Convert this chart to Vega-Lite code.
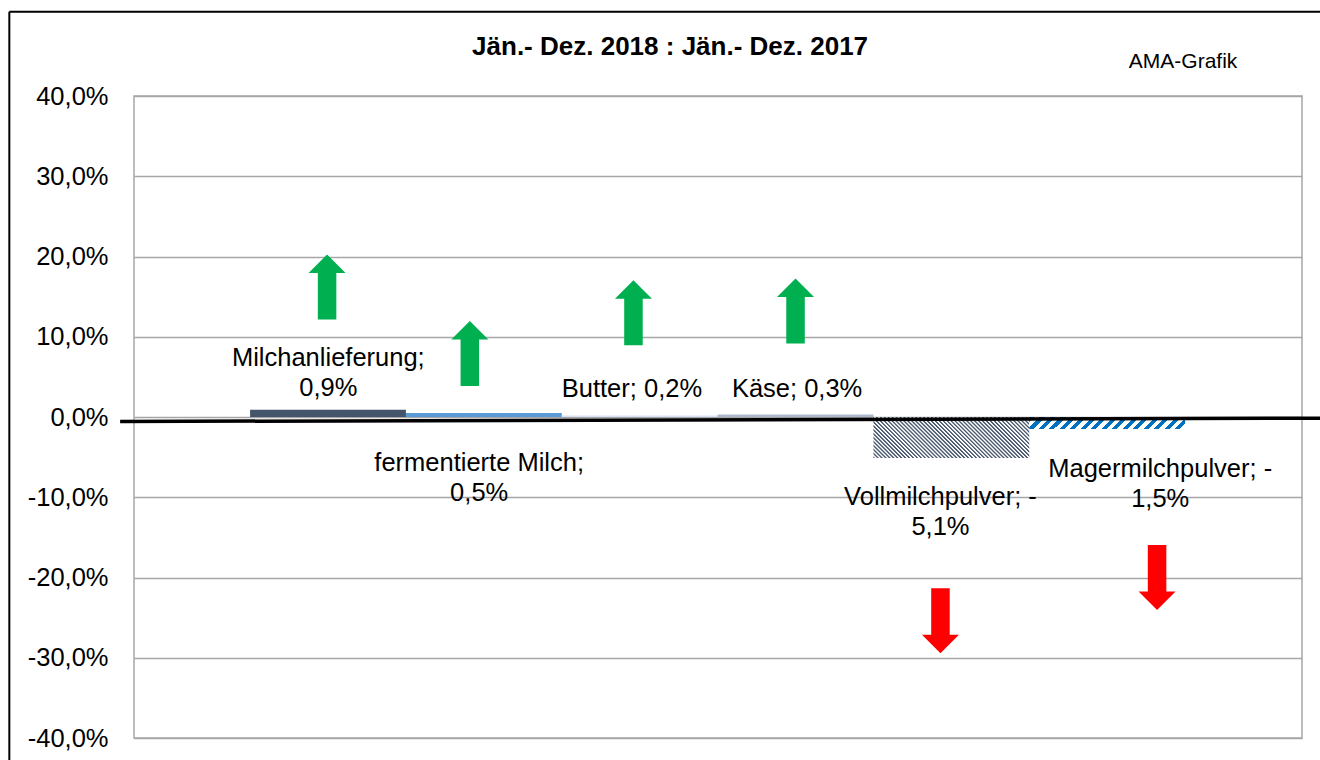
{
  "$schema": "https://vega.github.io/schema/vega-lite/v6.json",
  "width": 1168,
  "height": 642,
  "autosize": {"type": "none"},
  "padding": {"left": 134, "top": 96, "right": 18, "bottom": 22},
  "background": "white",
  "config": {"font": "Liberation Sans", "view": {"stroke": "#a6a6a6", "strokeWidth": 1.5}},
  "resolve": {"axis": {"x": "independent", "y": "independent"}},
  "datasets": {
    "bars": [
      {"product": "Milchanlieferung", "change": 0.9, "from": 0, "to": 1},
      {"product": "fermentierte Milch", "change": 0.5, "from": 1, "to": 2},
      {"product": "Butter", "change": 0.2, "from": 2, "to": 3},
      {"product": "Käse", "change": 0.3, "from": 3, "to": 4},
      {"product": "Vollmilchpulver", "change": -5.1, "from": 4, "to": 5},
      {"product": "Magermilchpulver", "change": -1.5, "from": 5, "to": 6}
    ],
    "arrows": [
      {"product": "Milchanlieferung", "trend": "up", "pos": 0.494, "level": 16.2},
      {"product": "fermentierte Milch", "trend": "up", "pos": 1.41, "level": 7.9},
      {"product": "Butter", "trend": "up", "pos": 2.46, "level": 13.0},
      {"product": "Käse", "trend": "up", "pos": 3.5, "level": 13.2},
      {"product": "Vollmilchpulver", "trend": "down", "pos": 4.43, "level": -25.4},
      {"product": "Magermilchpulver", "trend": "down", "pos": 5.82, "level": -20.0}
    ],
    "labels": [
      {"label": ["Milchanlieferung;", "0,9%"], "pos": 0.502, "level": 7.35},
      {"label": ["fermentierte Milch;", "0,5%"], "pos": 1.47, "level": -5.73},
      {"label": "Butter; 0,2%", "pos": 2.45, "level": 3.49},
      {"label": "Käse; 0,3%", "pos": 3.51, "level": 3.49},
      {"label": ["Vollmilchpulver; -", "5,1%"], "pos": 4.43, "level": -9.97},
      {"label": ["Magermilchpulver; -", "1,5%"], "pos": 5.84, "level": -6.48}
    ],
    "axisline": [{"from": -0.834, "to": 6.866, "start": -0.56, "end": -0.15}],
    "frame": [
      {"from": -1.545, "to": -1.545, "start": 50.5, "end": -60},
      {"from": -1.545, "to": 9, "start": 50.5, "end": 50.5}
    ],
    "heading": [{"text": "Jän.- Dez. 2018 : Jän.- Dez. 2017", "pos": 2.695, "level": 46.1}],
    "note": [{"text": "AMA-Grafik", "pos": 5.987, "level": 44.2}]
  },
  "layer": [
    {
      "data": {"name": "bars"},
      "transform": [{"filter": "datum.product !== 'Vollmilchpulver' && datum.product !== 'Magermilchpulver'"}],
      "mark": {"type": "rect"},
      "encoding": {
        "x": {"field": "from", "type": "quantitative", "scale": {"domain": [-0.745, 6.75], "nice": false, "zero": false}, "axis": null},
        "x2": {"field": "to"},
        "y": {"field": "change", "type": "quantitative", "scale": {"domain": [-40, 40], "nice": false, "zero": false},
          "axis": {"orient": "left", "values": [-40, -30, -20, -10, 0, 10, 20, 30, 40], "title": null, "domain": false, "ticks": false, "tickSize": 0, "labelPadding": 26, "labelFontSize": 25.5, "labelColor": "#000000", "labelFont": "Liberation Sans", "grid": true, "gridColor": "#a6a6a6", "gridWidth": 1.5,
            "labelExpr": "replace(replace(format(datum.value, '.1f'), '.', ','), '\u2212', '-') + '%'"}},
        "y2": {"datum": 0},
        "color": {"field": "product", "type": "nominal", "legend": null,
          "scale": {"domain": ["Milchanlieferung", "fermentierte Milch", "Butter", "Käse"], "range": ["#44546a", "#5b9bd5", "#dae3f3", "#adb9ca"]}}
      }
    },
    {
      "data": {"name": "bars"},
      "transform": [{"filter": "datum.product === 'Vollmilchpulver'"}],
      "mark": {"type": "rect", "fill": {"gradient": "linear", "x1": 0, "y1": 1, "x2": 1.1811, "y2": 0.69, "stops": [
        {"offset":0,"color":"#4d5b70"},{"offset":0.005,"color":"#4d5b70"},{"offset":0.011,"color":"#fff"},{"offset":0.016,"color":"#fff"},
        {"offset":0.02,"color":"#4d5b70"},{"offset":0.025,"color":"#4d5b70"},{"offset":0.031,"color":"#fff"},{"offset":0.036,"color":"#fff"},
        {"offset":0.04,"color":"#4d5b70"},{"offset":0.045,"color":"#4d5b70"},{"offset":0.051,"color":"#fff"},{"offset":0.056,"color":"#fff"},
        {"offset":0.06,"color":"#4d5b70"},{"offset":0.065,"color":"#4d5b70"},{"offset":0.071,"color":"#fff"},{"offset":0.076,"color":"#fff"},
        {"offset":0.08,"color":"#4d5b70"},{"offset":0.085,"color":"#4d5b70"},{"offset":0.091,"color":"#fff"},{"offset":0.096,"color":"#fff"},
        {"offset":0.1,"color":"#4d5b70"},{"offset":0.105,"color":"#4d5b70"},{"offset":0.111,"color":"#fff"},{"offset":0.116,"color":"#fff"},
        {"offset":0.12,"color":"#4d5b70"},{"offset":0.125,"color":"#4d5b70"},{"offset":0.131,"color":"#fff"},{"offset":0.136,"color":"#fff"},
        {"offset":0.14,"color":"#4d5b70"},{"offset":0.145,"color":"#4d5b70"},{"offset":0.151,"color":"#fff"},{"offset":0.156,"color":"#fff"},
        {"offset":0.16,"color":"#4d5b70"},{"offset":0.165,"color":"#4d5b70"},{"offset":0.171,"color":"#fff"},{"offset":0.176,"color":"#fff"},
        {"offset":0.18,"color":"#4d5b70"},{"offset":0.185,"color":"#4d5b70"},{"offset":0.191,"color":"#fff"},{"offset":0.196,"color":"#fff"},
        {"offset":0.2,"color":"#4d5b70"},{"offset":0.205,"color":"#4d5b70"},{"offset":0.211,"color":"#fff"},{"offset":0.216,"color":"#fff"},
        {"offset":0.22,"color":"#4d5b70"},{"offset":0.225,"color":"#4d5b70"},{"offset":0.231,"color":"#fff"},{"offset":0.236,"color":"#fff"},
        {"offset":0.24,"color":"#4d5b70"},{"offset":0.245,"color":"#4d5b70"},{"offset":0.251,"color":"#fff"},{"offset":0.256,"color":"#fff"},
        {"offset":0.26,"color":"#4d5b70"},{"offset":0.265,"color":"#4d5b70"},{"offset":0.271,"color":"#fff"},{"offset":0.276,"color":"#fff"},
        {"offset":0.28,"color":"#4d5b70"},{"offset":0.285,"color":"#4d5b70"},{"offset":0.291,"color":"#fff"},{"offset":0.296,"color":"#fff"},
        {"offset":0.3,"color":"#4d5b70"},{"offset":0.305,"color":"#4d5b70"},{"offset":0.311,"color":"#fff"},{"offset":0.316,"color":"#fff"},
        {"offset":0.32,"color":"#4d5b70"},{"offset":0.325,"color":"#4d5b70"},{"offset":0.331,"color":"#fff"},{"offset":0.336,"color":"#fff"},
        {"offset":0.34,"color":"#4d5b70"},{"offset":0.345,"color":"#4d5b70"},{"offset":0.351,"color":"#fff"},{"offset":0.356,"color":"#fff"},
        {"offset":0.36,"color":"#4d5b70"},{"offset":0.365,"color":"#4d5b70"},{"offset":0.371,"color":"#fff"},{"offset":0.376,"color":"#fff"},
        {"offset":0.38,"color":"#4d5b70"},{"offset":0.385,"color":"#4d5b70"},{"offset":0.391,"color":"#fff"},{"offset":0.396,"color":"#fff"},
        {"offset":0.4,"color":"#4d5b70"},{"offset":0.405,"color":"#4d5b70"},{"offset":0.411,"color":"#fff"},{"offset":0.416,"color":"#fff"},
        {"offset":0.42,"color":"#4d5b70"},{"offset":0.425,"color":"#4d5b70"},{"offset":0.431,"color":"#fff"},{"offset":0.436,"color":"#fff"},
        {"offset":0.44,"color":"#4d5b70"},{"offset":0.445,"color":"#4d5b70"},{"offset":0.451,"color":"#fff"},{"offset":0.456,"color":"#fff"},
        {"offset":0.46,"color":"#4d5b70"},{"offset":0.465,"color":"#4d5b70"},{"offset":0.471,"color":"#fff"},{"offset":0.476,"color":"#fff"},
        {"offset":0.48,"color":"#4d5b70"},{"offset":0.485,"color":"#4d5b70"},{"offset":0.491,"color":"#fff"},{"offset":0.496,"color":"#fff"},
        {"offset":0.5,"color":"#4d5b70"},{"offset":0.505,"color":"#4d5b70"},{"offset":0.511,"color":"#fff"},{"offset":0.516,"color":"#fff"},
        {"offset":0.52,"color":"#4d5b70"},{"offset":0.525,"color":"#4d5b70"},{"offset":0.531,"color":"#fff"},{"offset":0.536,"color":"#fff"},
        {"offset":0.54,"color":"#4d5b70"},{"offset":0.545,"color":"#4d5b70"},{"offset":0.551,"color":"#fff"},{"offset":0.556,"color":"#fff"},
        {"offset":0.56,"color":"#4d5b70"},{"offset":0.565,"color":"#4d5b70"},{"offset":0.571,"color":"#fff"},{"offset":0.576,"color":"#fff"},
        {"offset":0.58,"color":"#4d5b70"},{"offset":0.585,"color":"#4d5b70"},{"offset":0.591,"color":"#fff"},{"offset":0.596,"color":"#fff"},
        {"offset":0.6,"color":"#4d5b70"},{"offset":0.605,"color":"#4d5b70"},{"offset":0.611,"color":"#fff"},{"offset":0.616,"color":"#fff"},
        {"offset":0.62,"color":"#4d5b70"},{"offset":0.625,"color":"#4d5b70"},{"offset":0.631,"color":"#fff"},{"offset":0.636,"color":"#fff"},
        {"offset":0.64,"color":"#4d5b70"},{"offset":0.645,"color":"#4d5b70"},{"offset":0.651,"color":"#fff"},{"offset":0.656,"color":"#fff"},
        {"offset":0.66,"color":"#4d5b70"},{"offset":0.665,"color":"#4d5b70"},{"offset":0.671,"color":"#fff"},{"offset":0.676,"color":"#fff"},
        {"offset":0.68,"color":"#4d5b70"},{"offset":0.685,"color":"#4d5b70"},{"offset":0.691,"color":"#fff"},{"offset":0.696,"color":"#fff"},
        {"offset":0.7,"color":"#4d5b70"},{"offset":0.705,"color":"#4d5b70"},{"offset":0.711,"color":"#fff"},{"offset":0.716,"color":"#fff"},
        {"offset":0.72,"color":"#4d5b70"},{"offset":0.725,"color":"#4d5b70"},{"offset":0.731,"color":"#fff"},{"offset":0.736,"color":"#fff"},
        {"offset":0.74,"color":"#4d5b70"},{"offset":0.745,"color":"#4d5b70"},{"offset":0.751,"color":"#fff"},{"offset":0.756,"color":"#fff"},
        {"offset":0.76,"color":"#4d5b70"},{"offset":0.765,"color":"#4d5b70"},{"offset":0.771,"color":"#fff"},{"offset":0.776,"color":"#fff"},
        {"offset":0.78,"color":"#4d5b70"},{"offset":0.785,"color":"#4d5b70"},{"offset":0.791,"color":"#fff"},{"offset":0.796,"color":"#fff"},
        {"offset":0.8,"color":"#4d5b70"},{"offset":0.805,"color":"#4d5b70"},{"offset":0.811,"color":"#fff"},{"offset":0.816,"color":"#fff"},
        {"offset":0.82,"color":"#4d5b70"},{"offset":0.825,"color":"#4d5b70"},{"offset":0.831,"color":"#fff"},{"offset":0.836,"color":"#fff"},
        {"offset":0.84,"color":"#4d5b70"},{"offset":0.845,"color":"#4d5b70"},{"offset":0.851,"color":"#fff"},{"offset":0.856,"color":"#fff"},
        {"offset":0.86,"color":"#4d5b70"},{"offset":0.865,"color":"#4d5b70"},{"offset":0.871,"color":"#fff"},{"offset":0.876,"color":"#fff"},
        {"offset":0.88,"color":"#4d5b70"},{"offset":0.885,"color":"#4d5b70"},{"offset":0.891,"color":"#fff"},{"offset":0.896,"color":"#fff"},
        {"offset":0.9,"color":"#4d5b70"},{"offset":0.905,"color":"#4d5b70"},{"offset":0.911,"color":"#fff"},{"offset":0.916,"color":"#fff"},
        {"offset":0.92,"color":"#4d5b70"},{"offset":0.925,"color":"#4d5b70"},{"offset":0.931,"color":"#fff"},{"offset":0.936,"color":"#fff"},
        {"offset":0.94,"color":"#4d5b70"},{"offset":0.945,"color":"#4d5b70"},{"offset":0.951,"color":"#fff"},{"offset":0.956,"color":"#fff"},
        {"offset":0.96,"color":"#4d5b70"},{"offset":0.965,"color":"#4d5b70"},{"offset":0.971,"color":"#fff"},{"offset":0.976,"color":"#fff"},
        {"offset":0.98,"color":"#4d5b70"},{"offset":0.985,"color":"#4d5b70"},{"offset":0.991,"color":"#fff"},{"offset":0.996,"color":"#fff"}
      ]}},
      "encoding": {
        "x": {"field": "from", "type": "quantitative", "scale": {"domain": [-0.745, 6.75], "nice": false, "zero": false}, "axis": null},
        "x2": {"field": "to"},
        "y": {"field": "change", "type": "quantitative", "scale": {"domain": [-40, 40], "nice": false, "zero": false}, "axis": null},
        "y2": {"datum": 0}
      }
    },
    {
      "data": {"name": "bars"},
      "transform": [{"filter": "datum.product === 'Magermilchpulver'"}],
      "mark": {"type": "rect", "fill": {"gradient": "linear", "x1": 0, "y1": 0, "x2": 1.0709, "y2": 0.0828, "stops": [
        {"offset":0,"color":"#0070c0"},{"offset":0.03125,"color":"#0070c0"},{"offset":0.03125,"color":"#fff"},{"offset":0.0625,"color":"#fff"},
        {"offset":0.0625,"color":"#0070c0"},{"offset":0.09375,"color":"#0070c0"},{"offset":0.09375,"color":"#fff"},{"offset":0.125,"color":"#fff"},
        {"offset":0.125,"color":"#0070c0"},{"offset":0.15625,"color":"#0070c0"},{"offset":0.15625,"color":"#fff"},{"offset":0.1875,"color":"#fff"},
        {"offset":0.1875,"color":"#0070c0"},{"offset":0.21875,"color":"#0070c0"},{"offset":0.21875,"color":"#fff"},{"offset":0.25,"color":"#fff"},
        {"offset":0.25,"color":"#0070c0"},{"offset":0.28125,"color":"#0070c0"},{"offset":0.28125,"color":"#fff"},{"offset":0.3125,"color":"#fff"},
        {"offset":0.3125,"color":"#0070c0"},{"offset":0.34375,"color":"#0070c0"},{"offset":0.34375,"color":"#fff"},{"offset":0.375,"color":"#fff"},
        {"offset":0.375,"color":"#0070c0"},{"offset":0.40625,"color":"#0070c0"},{"offset":0.40625,"color":"#fff"},{"offset":0.4375,"color":"#fff"},
        {"offset":0.4375,"color":"#0070c0"},{"offset":0.46875,"color":"#0070c0"},{"offset":0.46875,"color":"#fff"},{"offset":0.5,"color":"#fff"},
        {"offset":0.5,"color":"#0070c0"},{"offset":0.53125,"color":"#0070c0"},{"offset":0.53125,"color":"#fff"},{"offset":0.5625,"color":"#fff"},
        {"offset":0.5625,"color":"#0070c0"},{"offset":0.59375,"color":"#0070c0"},{"offset":0.59375,"color":"#fff"},{"offset":0.625,"color":"#fff"},
        {"offset":0.625,"color":"#0070c0"},{"offset":0.65625,"color":"#0070c0"},{"offset":0.65625,"color":"#fff"},{"offset":0.6875,"color":"#fff"},
        {"offset":0.6875,"color":"#0070c0"},{"offset":0.71875,"color":"#0070c0"},{"offset":0.71875,"color":"#fff"},{"offset":0.75,"color":"#fff"},
        {"offset":0.75,"color":"#0070c0"},{"offset":0.78125,"color":"#0070c0"},{"offset":0.78125,"color":"#fff"},{"offset":0.8125,"color":"#fff"},
        {"offset":0.8125,"color":"#0070c0"},{"offset":0.84375,"color":"#0070c0"},{"offset":0.84375,"color":"#fff"},{"offset":0.875,"color":"#fff"},
        {"offset":0.875,"color":"#0070c0"},{"offset":0.90625,"color":"#0070c0"},{"offset":0.90625,"color":"#fff"},{"offset":0.9375,"color":"#fff"},
        {"offset":0.9375,"color":"#0070c0"},{"offset":0.96875,"color":"#0070c0"},{"offset":0.96875,"color":"#fff"},{"offset":1,"color":"#fff"}
      ]}},
      "encoding": {
        "x": {"field": "from", "type": "quantitative", "scale": {"domain": [-0.745, 6.75], "nice": false, "zero": false}, "axis": null},
        "x2": {"field": "to"},
        "y": {"field": "change", "type": "quantitative", "scale": {"domain": [-40, 40], "nice": false, "zero": false}, "axis": null},
        "y2": {"datum": 0}
      }
    },
    {
      "data": {"name": "axisline"},
      "mark": {"type": "rule", "color": "#000000", "strokeWidth": 3.5},
      "encoding": {
        "x": {"field": "from", "type": "quantitative", "scale": {"domain": [-0.745, 6.75], "nice": false, "zero": false}, "axis": null},
        "x2": {"field": "to"},
        "y": {"field": "start", "type": "quantitative", "scale": {"domain": [-40, 40], "nice": false, "zero": false}, "axis": null},
        "y2": {"field": "end"}
      }
    },
    {
      "data": {"name": "frame"},
      "mark": {"type": "rule", "color": "#000000", "strokeWidth": 2},
      "encoding": {
        "x": {"field": "from", "type": "quantitative", "scale": {"domain": [-0.745, 6.75], "nice": false, "zero": false}, "axis": null},
        "x2": {"field": "to"},
        "y": {"field": "start", "type": "quantitative", "scale": {"domain": [-40, 40], "nice": false, "zero": false}, "axis": null},
        "y2": {"field": "end"}
      }
    },
    {
      "data": {"name": "arrows"},
      "transform": [{"filter": "datum.trend === 'up'"}],
      "mark": {"type": "point", "shape": "M0,-1L0.569,-0.431L0.285,-0.431L0.285,1L-0.285,1L-0.285,-0.431L-0.569,-0.431Z", "filled": true, "size": 4225, "color": "#00b050", "opacity": 1, "strokeWidth": 0},
      "encoding": {
        "x": {"field": "pos", "type": "quantitative", "scale": {"domain": [-0.745, 6.75], "nice": false, "zero": false}, "axis": null},
        "y": {"field": "level", "type": "quantitative", "scale": {"domain": [-40, 40], "nice": false, "zero": false}, "axis": null}
      }
    },
    {
      "data": {"name": "arrows"},
      "transform": [{"filter": "datum.trend === 'down'"}],
      "mark": {"type": "point", "shape": "M0,1L0.569,0.431L0.285,0.431L0.285,-1L-0.285,-1L-0.285,0.431L-0.569,0.431Z", "filled": true, "size": 4225, "color": "#ff0000", "opacity": 1, "strokeWidth": 0},
      "encoding": {
        "x": {"field": "pos", "type": "quantitative", "scale": {"domain": [-0.745, 6.75], "nice": false, "zero": false}, "axis": null},
        "y": {"field": "level", "type": "quantitative", "scale": {"domain": [-40, 40], "nice": false, "zero": false}, "axis": null}
      }
    },
    {
      "data": {"name": "labels"},
      "mark": {"type": "text", "fontSize": 25.5, "font": "Liberation Sans", "color": "#000000", "align": "center", "baseline": "middle", "lineHeight": 30},
      "encoding": {
        "x": {"field": "pos", "type": "quantitative", "scale": {"domain": [-0.745, 6.75], "nice": false, "zero": false}, "axis": null},
        "y": {"field": "level", "type": "quantitative", "scale": {"domain": [-40, 40], "nice": false, "zero": false}, "axis": null},
        "text": {"field": "label"}
      }
    },
    {
      "data": {"name": "heading"},
      "mark": {"type": "text", "fontSize": 26, "fontWeight": "bold", "font": "Liberation Sans", "color": "#000000", "align": "center", "baseline": "middle"},
      "encoding": {
        "x": {"field": "pos", "type": "quantitative", "scale": {"domain": [-0.745, 6.75], "nice": false, "zero": false}, "axis": null},
        "y": {"field": "level", "type": "quantitative", "scale": {"domain": [-40, 40], "nice": false, "zero": false}, "axis": null},
        "text": {"field": "text"}
      }
    },
    {
      "data": {"name": "note"},
      "mark": {"type": "text", "fontSize": 21, "font": "Liberation Sans", "color": "#000000", "align": "center", "baseline": "middle"},
      "encoding": {
        "x": {"field": "pos", "type": "quantitative", "scale": {"domain": [-0.745, 6.75], "nice": false, "zero": false}, "axis": null},
        "y": {"field": "level", "type": "quantitative", "scale": {"domain": [-40, 40], "nice": false, "zero": false}, "axis": null},
        "text": {"field": "text"}
      }
    }
  ]
}
